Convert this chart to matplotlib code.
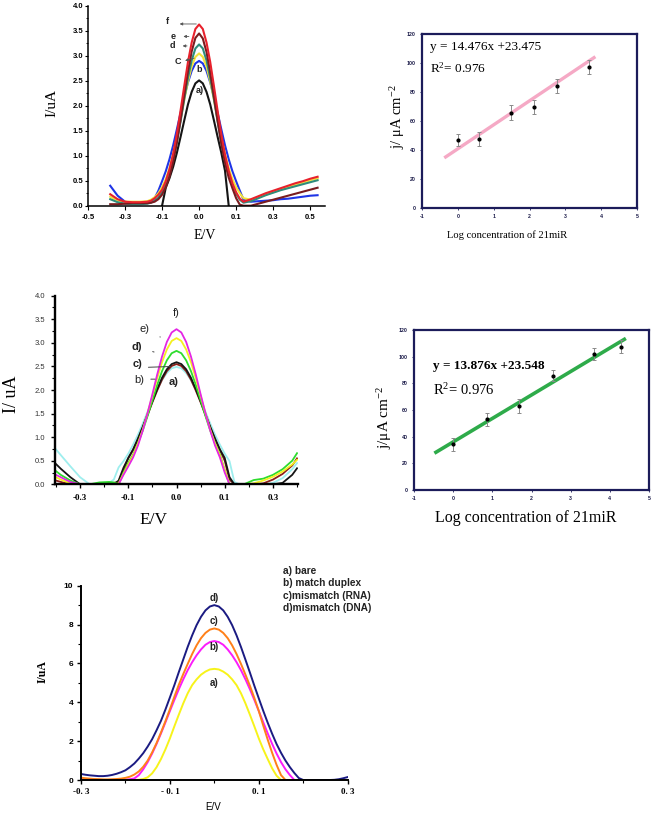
import numpy as np
import matplotlib.pyplot as plt
plt.switch_backend("Agg")

SERIF = 'Liberation Serif'
SANS = 'Liberation Sans'
plt.rcParams['font.family'] = [SANS, 'DejaVu Sans']
plt.rcParams['mathtext.fontset'] = 'custom'
plt.rcParams['mathtext.rm'] = SERIF
plt.rcParams['mathtext.it'] = SERIF + ':italic'
plt.rcParams['mathtext.bf'] = SERIF + ':bold'
nan = np.nan

#### data ######################################################################

# panel 1 : DPV curves a-f (top left)
E1 = [-0.24, -0.22, -0.20, -0.18, -0.16, -0.14, -0.13, -0.12, -0.11,
      -0.10, -0.09, -0.08, -0.07, -0.06, -0.05, -0.04, -0.03, -0.02, -0.01, 0.0,
      0.01, 0.02, 0.03, 0.04, 0.05, 0.06, 0.07, 0.08, 0.09, 0.10,
      0.11, 0.12, 0.14, 0.16, 0.18, 0.20, 0.22, 0.24, 0.26, 0.28, 0.30, 0.32]
I1_a = [nan]*9 + [0.0, 0.36, 0.55, 0.78, 1.06, 1.38, 1.71, 2.03, 2.28, 2.45, 2.51,
                  2.45, 2.28, 2.03, 1.71, 1.38, 1.06, 0.70, 0.0] + [nan]*14
I1_b = [0.40, 0.20, 0.08, 0.05, 0.05, 0.06, 0.09, 0.15, 0.30,
        0.49, 0.69, 0.93, 1.21, 1.53, 1.86, 2.18, 2.47, 2.70, 2.85, 2.90,
        2.85, 2.70, 2.47, 2.18, 1.86, 1.53, 1.21, 0.93, 0.69, 0.49,
        0.30, 0.12, 0.08, 0.09, 0.10, 0.11, 0.13, 0.14, 0.16, 0.18, 0.20, 0.21]
I1_c = [0.18, 0.10, 0.08, 0.08, 0.08, 0.09, 0.12, 0.17, 0.25,
        0.37, 0.53, 0.75, 1.03, 1.36, 1.73, 2.12, 2.49, 2.79, 2.98, 3.05,
        2.98, 2.79, 2.49, 2.12, 1.73, 1.36, 1.03, 0.75, 0.53, 0.37,
        0.25, 0.15, 0.12, 0.17, 0.22, 0.27, 0.32, 0.37, 0.42, 0.46, 0.51, 0.55]
I1_d = [0.13, 0.07, 0.04, 0.03, 0.03, 0.04, 0.06, 0.10, 0.16,
        0.27, 0.42, 0.64, 0.93, 1.28, 1.69, 2.14, 2.56, 2.91, 3.15, 3.23,
        3.15, 2.91, 2.56, 2.14, 1.69, 1.27, 0.91, 0.62, 0.40, 0.24,
        0.12, 0.06, 0.09, 0.15, 0.21, 0.26, 0.31, 0.35, 0.39, 0.43, 0.47, 0.51]
I1_e = [0.03, 0.03, 0.04, 0.05, 0.05, 0.05, 0.06, 0.08, 0.13,
        0.22, 0.37, 0.58, 0.88, 1.26, 1.72, 2.21, 2.69, 3.09, 3.36, 3.45,
        3.35, 3.08, 2.67, 2.19, 1.70, 1.24, 0.86, 0.56, 0.35, 0.15,
        0.02, 0.0, 0.0, 0.04, 0.08, 0.12, 0.16, 0.20, 0.24, 0.28, 0.32, 0.36]
I1_f = [0.23, 0.13, 0.08, 0.07, 0.07, 0.08, 0.10, 0.15, 0.22,
        0.32, 0.49, 0.73, 1.04, 1.44, 1.91, 2.40, 2.88, 3.27, 3.54, 3.63,
        3.54, 3.27, 2.88, 2.40, 1.90, 1.43, 1.02, 0.70, 0.45, 0.27,
        0.14, 0.08, 0.13, 0.19, 0.25, 0.30, 0.35, 0.40, 0.45, 0.49, 0.54, 0.58]
xt1_lab = ['-0.5', '-0.3', '-0.1', '0.0', '0.1', '0.3', '0.5']
yt1_lab = ['0.0', '0.5', '1.0', '1.5', '2.0', '2.5', '3.0', '3.5', '4.0']

# panel 2 : calibration (top right)
logc2 = [0.0, 0.6, 1.47, 2.12, 2.77, 3.67]
j2 = [46.9, 47.4, 65.7, 69.9, 84.4, 97.5]
j2_err = [4.4, 4.8, 5.0, 4.8, 4.8, 4.8]
fit2_x = [-0.34, 3.8]
fit2_y = [35.2, 103.7]

# panel 3 : DPV curves a-f (middle left)
E3 = [-0.25, -0.24, -0.22, -0.20, -0.18, -0.16, -0.14, -0.13, -0.12, -0.11,
      -0.10, -0.09, -0.08, -0.07, -0.06, -0.05, -0.04, -0.03, -0.02, -0.01, 0.0,
      0.01, 0.02, 0.03, 0.04, 0.05, 0.06, 0.07, 0.08, 0.09, 0.10,
      0.11, 0.12, 0.13, 0.14, 0.16, 0.18, 0.20, 0.22, 0.24, 0.25]
I3_a = [0.74, 0.62, 0.38, 0.15, 0.0, 0.0, 0.03, 0.10, 0.36, 0.49,
        0.65, 0.84, 1.05, 1.29, 1.54, 1.78, 2.01, 2.21, 2.36, 2.46, 2.49,
        2.46, 2.36, 2.21, 2.01, 1.78, 1.54, 1.29, 1.05, 0.84, 0.65,
        0.49, 0.05, 0.0, 0.0, 0.0, 0.0, 0.03, 0.13, 0.32, 0.45]
I3_b = [0.08, 0.05, 0.0, 0.0, 0.0, 0.0, 0.03, 0.03, 0.05, 0.30,
        0.55, 0.73, 0.95, 1.20, 1.47, 1.74, 1.99, 2.22, 2.40, 2.51, 2.55,
        2.51, 2.40, 2.22, 1.99, 1.74, 1.47, 1.20, 0.95, 0.73, 0.50,
        0.10, 0.0, 0.0, 0.0, 0.0, 0.02, 0.10, 0.22, 0.40, 0.55]
I3_c = [0.43, 0.33, 0.15, 0.0, 0.0, 0.0, 0.0, 0.0, 0.08, 0.35,
        0.56, 0.74, 0.97, 1.22, 1.49, 1.76, 2.02, 2.26, 2.44, 2.55, 2.59,
        2.55, 2.44, 2.26, 2.02, 1.76, 1.49, 1.22, 0.97, 0.74, 0.56,
        0.15, 0.0, 0.0, 0.0, 0.0, 0.0, 0.0, 0.03, 0.20, 0.34]
I3_d = [0.28, 0.20, 0.08, 0.0, 0.0, 0.04, 0.05, 0.04, 0.0, 0.25,
        0.45, 0.63, 0.87, 1.14, 1.45, 1.78, 2.11, 2.40, 2.63, 2.78, 2.83,
        2.78, 2.63, 2.40, 2.11, 1.78, 1.45, 1.14, 0.87, 0.63, 0.30,
        0.0, 0.0, 0.0, 0.0, 0.09, 0.12, 0.20, 0.32, 0.50, 0.66]
I3_e = [0.15, 0.10, 0.02, 0.0, 0.0, 0.0, 0.0, 0.0, 0.02, 0.22,
        0.42, 0.61, 0.86, 1.16, 1.51, 1.88, 2.25, 2.59, 2.86, 3.04, 3.10,
        3.04, 2.86, 2.59, 2.25, 1.88, 1.51, 1.16, 0.86, 0.61, 0.30,
        0.0, 0.0, 0.0, 0.0, 0.02, 0.08, 0.16, 0.27, 0.42, 0.52]
I3_f = [0.20, 0.15, 0.05, 0.0, 0.0, 0.0, 0.0, 0.0, 0.0, 0.20,
        0.38, 0.57, 0.82, 1.14, 1.51, 1.91, 2.33, 2.71, 3.02, 3.22, 3.29,
        3.22, 3.02, 2.71, 2.33, 1.91, 1.51, 1.14, 0.82, 0.57, 0.25,
        0.0, 0.0, 0.0, 0.0, 0.0, 0.0, 0.0, 0.0, 0.0, 0.0]
xt3_lab = ['-0.3', '-0.1', '0.0', '0.1', '0.3']

# panel 4 : calibration (middle right)
logc4 = [0.0, 0.86, 1.68, 2.56, 3.6, 4.29]
j4 = [34.3, 53.0, 63.0, 85.7, 102.0, 107.5]
j4_err = [5.0, 5.0, 5.0, 4.0, 4.8, 5.0]
fit4_x = [-0.44, 4.37]
fit4_y = [28.3, 113.0]

# panel 5 : selectivity (bottom), sampled every 10 mV from -0.30 to 0.30 V
E5 = np.linspace(-0.30, 0.30, 61)
I5_bare = [0.08, 0.06, 0.05, 0.03, 0.02, 0.01, 0.0, 0.0, 0.0, 0.0,
           0.0, 0.0, 0.0, 0.01, 0.05, 0.14, 0.34, 0.66, 1.08, 1.58,
           2.14, 2.76, 3.36, 3.94, 4.46, 4.88, 5.18, 5.42, 5.58, 5.69,
           5.72,
           5.69, 5.58, 5.42, 5.18, 4.88, 4.46, 3.94, 3.36, 2.76, 2.14,
           1.58, 1.08, 0.60, 0.22, 0.0, 0.0, 0.0, 0.0, 0.0, 0.0,
           0.0, 0.0, 0.0, 0.0, 0.0, 0.0, 0.0, 0.0, 0.0, 0.0]
I5_match = [0.05, 0.04, 0.03, 0.02, 0.01, 0.0, 0.0, 0.0, 0.0, 0.01,
            0.02, 0.04, 0.08, 0.25, 0.55, 0.92, 1.36, 1.86, 2.40, 2.97,
            3.55, 4.12, 4.67, 5.18, 5.65, 6.06, 6.42, 6.72, 6.96, 7.10,
            7.15,
            7.10, 6.96, 6.72, 6.42, 6.06, 5.65, 5.18, 4.67, 4.12, 3.55,
            2.97, 2.40, 1.86, 1.36, 0.92, 0.55, 0.25, 0.0, 0.0, 0.0,
            0.0, 0.0, 0.0, 0.0, 0.0, 0.0, 0.0, 0.0, 0.0, 0.0]
I5_rna = [0.12, 0.09, 0.07, 0.05, 0.04, 0.03, 0.03, 0.04, 0.05, 0.07,
          0.11, 0.17, 0.28, 0.44, 0.68, 1.00, 1.42, 1.90, 2.45, 3.03,
          3.64, 4.28, 4.90, 5.45, 5.97, 6.48, 6.93, 7.30, 7.57, 7.74,
          7.80,
          7.74, 7.57, 7.30, 6.93, 6.48, 5.97, 5.42, 4.85, 4.22, 3.55,
          2.80, 2.08, 1.40, 0.78, 0.25, 0.0, 0.0, 0.0, 0.0, 0.0,
          0.0, 0.0, 0.0, 0.0, 0.0, 0.0, 0.0, 0.0, 0.0, 0.0]
I5_dna = [0.31, 0.27, 0.24, 0.22, 0.20, 0.20, 0.22, 0.26, 0.32, 0.40,
          0.50, 0.66, 0.85, 1.10, 1.38, 1.72, 2.10, 2.56, 3.05, 3.63,
          4.25, 4.88, 5.55, 6.20, 6.85, 7.44, 7.97, 8.40, 8.73, 8.93,
          9.00,
          8.93, 8.73, 8.40, 7.97, 7.44, 6.84, 6.19, 5.53, 4.85, 4.20,
          3.56, 2.95, 2.38, 1.85, 1.40, 1.00, 0.66, 0.36, 0.10, 0.0,
          0.0, 0.0, 0.0, 0.0, 0.0, 0.0, 0.01, 0.04, 0.09, 0.15]
xt5_lab = ['-0. 3', '- 0. 1', '0. 1', '0. 3']
legend5 = ['a) bare', 'b) match duplex', 'c)mismatch (RNA)', 'd)mismatch (DNA)']

#### helpers ###################################################################

W, H = 658, 813
fig = plt.figure(figsize=(W/100, H/100), dpi=100)

def rect(x0, y0, x1, y1):
    return [x0/W, 1-y1/H, (x1-x0)/W, (y1-y0)/H]

def ftext(px, py, s, **kw):
    fig.text(px/W, 1-py/H, s, ha='center', va='center', **kw)

def open_axes(ax, lw):
    ax.spines['top'].set_visible(False)
    ax.spines['right'].set_visible(False)
    for s in ['left', 'bottom']:
        ax.spines[s].set_linewidth(lw)

def framed(ax, color='#1c1c5a', lw=1.6):
    for s in ax.spines.values():
        s.set_color(color)
        s.set_linewidth(lw)

#### panel 1 ###################################################################

ax1 = fig.add_axes(rect(88, 6, 325, 205.7))
for y, c in [(I1_a, '#151515'), (I1_b, '#1f35e6'), (I1_c, '#f2e33c'),
             (I1_d, '#2e8c7c'), (I1_e, '#7a1c1f'), (I1_f, '#e8212c')]:
    ax1.plot(E1, y, color=c, lw=1.5)
ax1.set_xlim(-0.3, 0.34)
ax1.set_ylim(0, 4)
open_axes(ax1, 1.1)
ax1.set_xticks(np.arange(-0.3, 0.31, 0.1), xt1_lab, fontsize=5.5, fontweight='bold')
ax1.set_yticks(np.arange(0, 4.01, 0.5), yt1_lab, fontsize=5.5, fontweight='bold')
ax1.set_yticks(np.arange(0.25, 4, 0.5), minor=True)
ax1.tick_params(axis='x', length=3, width=0.8, pad=3)
ax1.tick_params(axis='y', length=2.5, width=0.8, pad=0.8)
ax1.tick_params(axis='y', which='minor', length=1.5, width=0.6)
lab = dict(fontsize=6.5, fontweight='bold', ha='center', va='center', color='#222')
arr = dict(arrowstyle='-|>', lw=0.6, color='#555', mutation_scale=4)
ax1.text(-0.085, 3.69, 'f', **lab)
ax1.annotate('', xy=(-0.06, 3.64), xytext=(0.0, 3.64), arrowprops=arr)
ax1.text(-0.071, 3.39, 'e', **lab)
ax1.annotate('', xy=(-0.05, 3.39), xytext=(-0.02, 3.39), arrowprops=arr)
ax1.text(-0.071, 3.20, 'd', **lab)
ax1.annotate('', xy=(-0.052, 3.20), xytext=(-0.025, 3.20), arrowprops=arr)
ax1.text(-0.058, 2.89, 'C', **lab)
ax1.annotate('', xy=(-0.045, 2.89), xytext=(-0.006, 2.97), arrowprops=arr)
ax1.text(0.0, 2.73, 'b', **lab)
ax1.text(0.002, 2.31, 'a)', **lab)
ftext(52, 103, 'I/uA', rotation=90, fontsize=11, family=SERIF)
ftext(205, 235, 'E/V', fontsize=10, family=SERIF)

#### panel 2 ###################################################################

navy_tick = dict(fontsize=3.8, fontweight='bold', color='#1c1c4a')
ax2 = fig.add_axes(rect(422, 34, 637, 208))
ax2.plot(fit2_x, fit2_y, color='#f5a9c5', lw=2.4, zorder=1)
ax2.errorbar(logc2, j2, yerr=j2_err, fmt='o', ms=2, color='black', ecolor='#8a8a8a',
             elinewidth=0.7, capsize=1.5, capthick=0.7, zorder=2)
ax2.set_xlim(-1, 5)
ax2.set_ylim(0, 120)
framed(ax2)
ax2.set_xticks(range(-1, 6), [str(v) for v in range(-1, 6)], **navy_tick)
ax2.set_yticks(range(0, 121, 20), [str(v) for v in range(0, 121, 20)], **navy_tick)
ax2.tick_params(length=1.5, width=0.6, pad=3, color='#1c1c5a')
ax2.text(-0.78, 111, 'y = 14.476x +23.475', va='center', fontsize=9.5, family=SERIF)
ax2.text(-0.78, 96.5, r'R$^2$= 0.976', va='center', fontsize=9.5, family=SERIF)
ftext(398, 117, r'j/ μA cm$^{-2}$', rotation=90, fontsize=10.5, family=SERIF)
ftext(507, 235, 'Log concentration of 21miR', fontsize=7.6, family=SERIF)

#### panel 3 ###################################################################

ax3 = fig.add_axes(rect(55, 295.7, 298, 484.3))
for y, c in [(I3_a, '#9eeeee'), (I3_b, '#8a1f1a'), (I3_c, '#151515'),
             (I3_d, '#2edc2e'), (I3_e, '#f4f020'), (I3_f, '#e426e4')]:
    ax3.plot(E3, y, color=c, lw=1.3)
ax3.set_xlim(-0.252, 0.252)
ax3.set_ylim(0, 4)
open_axes(ax3, 1.7)
ax3.set_xticks(np.arange(-0.2, 0.21, 0.1), xt3_lab, fontsize=6.5, fontweight='bold',
               family=SERIF)
ax3.set_xticks(np.arange(-0.25, 0.26, 0.1), minor=True)
ax3.set_yticks(np.arange(0, 4.01, 0.5), yt1_lab, fontsize=5.5, color='#333')
ax3.set_yticks(np.arange(0.25, 4, 0.5), minor=True)
ax3.tick_params(length=3, width=1.0, pad=4)
ax3.tick_params(which='minor', length=2, width=0.8)
lab3 = dict(fontsize=8, ha='center', va='center', color='#222')
ax3.text(0.0, 3.63, 'f)', **lab3)
ax3.text(-0.066, 3.29, 'e)', **lab3)
ax3.text(-0.083, 2.92, 'd)', fontweight='bold', **lab3)
ax3.text(-0.081, 2.55, 'c)', fontweight='bold', **lab3)
ax3.text(-0.077, 2.21, 'b)', **lab3)
ax3.text(-0.007, 2.16, 'a)', fontweight='bold', **lab3)
dash = dict(arrowstyle='-', lw=0.7, color='#444')
ax3.annotate('', xy=(-0.028, 3.11), xytext=(-0.040, 3.14), arrowprops=dash)
ax3.annotate('', xy=(-0.041, 2.79), xytext=(-0.055, 2.83), arrowprops=dash)
ax3.annotate('', xy=(-0.007, 2.50), xytext=(-0.064, 2.48), arrowprops=dash)
ax3.annotate('', xy=(-0.039, 2.23), xytext=(-0.059, 2.23), arrowprops=dash)
ftext(12, 394, 'I/ uA', rotation=90, fontsize=13, family=SERIF)
ftext(153, 520, 'E/V', fontsize=12.5, family=SERIF)

#### panel 4 ###################################################################

ax4 = fig.add_axes(rect(414, 330, 649, 490))
ax4.plot(fit4_x, fit4_y, color='#2eab4a', lw=2.6, zorder=1)
ax4.errorbar(logc4, j4, yerr=j4_err, fmt='o', ms=2, color='black', ecolor='#8a8a8a',
             elinewidth=0.7, capsize=1.5, capthick=0.7, zorder=2)
ax4.set_xlim(-1, 5)
ax4.set_ylim(0, 120)
framed(ax4)
ax4.set_xticks(range(-1, 6), [str(v) for v in range(-1, 6)], **navy_tick)
ax4.set_yticks(range(0, 121, 20), [str(v) for v in range(0, 121, 20)], **navy_tick)
ax4.tick_params(length=1.5, width=0.6, pad=3, color='#1c1c5a')
ax4.text(-0.52, 93, 'y = 13.876x +23.548', va='center', fontsize=9.5,
         fontweight='bold', family=SERIF)
ax4.text(-0.52, 75, r'R$^2$= 0.976', va='center', fontsize=10.5, family=SERIF)
ftext(385, 417, r'j/μA cm$^{-2}$', rotation=90, fontsize=11, family=SERIF)
ftext(526, 518, 'Log concentration of 21miR', fontsize=11.5, family=SERIF)

#### panel 5 ###################################################################

ax5 = fig.add_axes(rect(81, 585.7, 347.7, 780))
for y, c in [(I5_bare, '#f7f31a'), (I5_match, '#fb1cfb'), (I5_rna, '#ff8019'),
             (I5_dna, '#1b1b82')]:
    ax5.plot(E5, y, color=c, lw=1.4)
ax5.set_xlim(-0.3, 0.3)
ax5.set_ylim(0, 10)
open_axes(ax5, 1.4)
ax5.set_xticks([-0.3, -0.1, 0.1, 0.3], xt5_lab, fontsize=6.5, fontweight='bold',
               family=SERIF)
ax5.set_xticks([-0.2, 0.0, 0.2], minor=True)
ax5.set_yticks(range(0, 11, 2), [str(v) for v in range(0, 11, 2)], fontsize=6,
               fontweight='bold')
ax5.set_yticks(range(1, 10, 2), minor=True)
ax5.tick_params(length=3, width=1.0, pad=2.5)
ax5.tick_params(which='minor', length=2, width=0.8)
lab5 = dict(fontsize=7, fontweight='bold', ha='center', va='center', color='#222')
ax5.text(0.0, 9.35, 'd)', **lab5)
ax5.text(0.0, 8.2, 'c)', **lab5)
ax5.text(0.0, 6.86, 'b)', **lab5)
ax5.text(0.0, 5.0, 'a)', **lab5)
for k, s in enumerate(legend5):
    fig.text(283/W, 1-(571+12.3*k)/H, s, ha='left', va='center', fontsize=7.3,
             fontweight='bold', color='#222')
ftext(43, 672, 'I/uA', rotation=90, fontsize=8.5, fontweight='bold', family=SERIF)
ftext(213, 807, 'E/V', fontsize=7)

fig.savefig('out.png', dpi=100)
plt.close(fig)
